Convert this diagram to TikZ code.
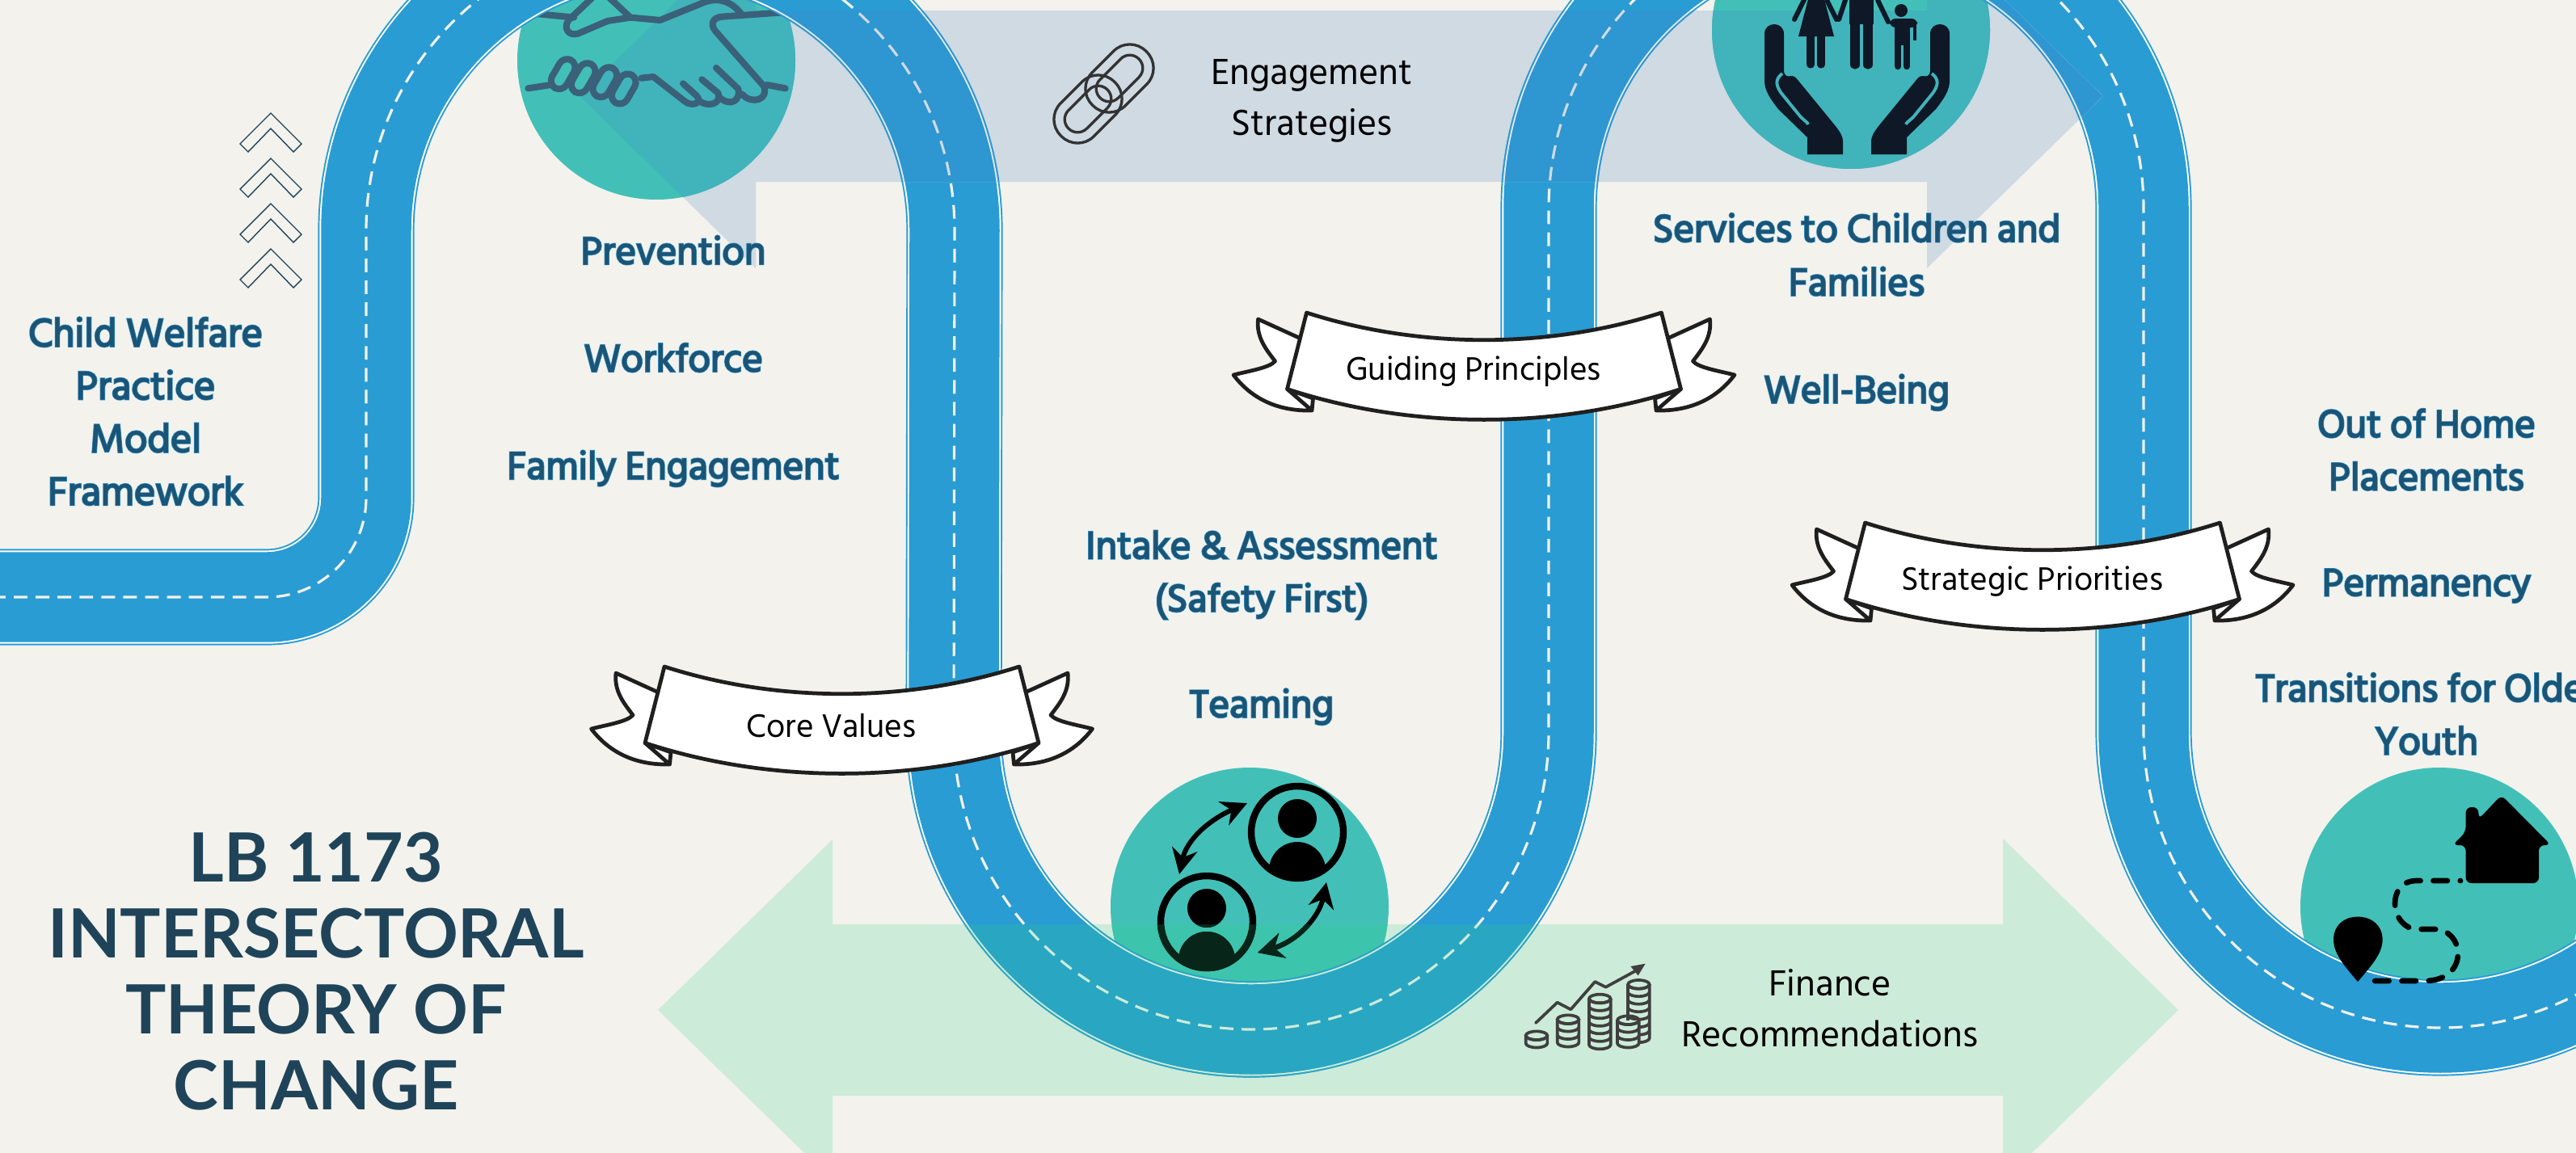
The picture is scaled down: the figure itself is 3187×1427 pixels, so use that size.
\documentclass[tikz,border=0pt]{standalone}
\usepackage{fontspec}
\usetikzlibrary{arrows.meta}

\setmainfont{Hind Siliguri}
\newfontfamily\infont[FakeBold=2.2]{Hind Siliguri}
\newfontfamily\outfont[FakeBold=5]{Hind Siliguri}
\newfontfamily\titlefont{Lato}[BoldFont={Lato Bold}]

\definecolor{paper}{HTML}{F3F2ED}
\definecolor{roadblue}{HTML}{299CD3}
\definecolor{roadgrey}{HTML}{2E96D0}
\definecolor{roadgreen}{HTML}{29A6C2}
\definecolor{teal}{HTML}{42C0B8}
\definecolor{tealgrey}{HTML}{41B3BB}
\definecolor{tealgreen}{HTML}{3DC4AC}
\definecolor{greyband}{HTML}{CFDAE3}
\definecolor{greenband}{HTML}{CDEBD9}
\definecolor{inkblue}{HTML}{1C5475}
\definecolor{lineblue}{HTML}{2E8FC5}
\definecolor{titleblue}{HTML}{1F4459}
\definecolor{shakeblue}{HTML}{3A6179}
\definecolor{navy}{HTML}{0E1826}
\definecolor{coingrey}{HTML}{3F3F3F}
\definecolor{nearblack}{HTML}{08251A}

% text that carries a thin lighter outline
\newcommand{\bl}[1]{\leavevmode\rlap{\color{lineblue}\outfont #1}{\color{inkblue}\infont #1}}

% the two translucent arrows
\newcommand{\greypath}{(717,119) -- (935,-94) -- (935,13) -- (2384,13) -- (2384,-94) -- (2602,119) -- (2384,332) -- (2384,225) -- (935,225) -- (935,332) -- cycle}
\newcommand{\greenpath}{(814,1250) -- (1030,1039) -- (1030,1144) -- (2478,1144) -- (2478,1038) -- (2695,1250) -- (2478,1462) -- (2478,1356) -- (1030,1356) -- (1030,1461) -- cycle}

% road, drawn in layers: edge, white line, body, centre dashes
\newcommand{\roadline}{(-10,739) -- (330,739) arc[start angle=90,end angle=0,radius=123] -- (453,285) arc[start angle=180,end angle=360,radius=364] -- (1180,906) arc[start angle=180,end angle=0,radius=368] -- (1916,258) arc[start angle=180,end angle=360,radius=368] -- (2652,905) arc[start angle=180,end angle=0,radius=367]}
\newcommand{\roadlayer}[4]{
    \draw[#1, line width=33.9pt] \roadline;
    \draw[#2, line width=32.8pt] \roadline;
    \draw[#3, line width=31.7pt] \roadline;
    \draw[#4, line width=.9pt, dash pattern=on 4.8pt off 2.9pt] \roadline;
}

% circles, plain and where an arrow lies under them
\newcommand{\discs}[1]{
    \fill[#1] (812,75) circle (172);
    \fill[#1] (2290,37) circle (172);
    \fill[#1] (1546,1122) circle (172);
    \fill[#1] (3018,1122) circle (172);
}

% two persons with arrows
\newcommand{\teamicon}[1]{
    \foreach \cx/\cy in {1605/1030,1493/1141} {
        \begin{scope}
            \clip (\cx,\cy) circle (58);
            \fill[#1] (\cx,\cy-17) circle (24);
            \fill[#1] (\cx,\cy+47) circle (35);
        \end{scope}
        \draw[#1, line width=2.4pt] (\cx,\cy) circle (57);
    }
    \draw[#1, line width=1.7pt, {Stealth[length=9pt,width=9pt]}-{Stealth[length=9pt,width=9pt]}] (1543,994) .. controls (1495,1015) and (1468,1040) .. (1459,1082);
    \draw[#1, line width=1.7pt, {Stealth[length=9pt,width=9pt]}-{Stealth[length=9pt,width=9pt]}] (1641,1092) .. controls (1632,1135) and (1605,1165) .. (1556,1179);
}

% one pile of coins
\newcommand{\coinstack}[3]{
    \fill[greenband] (#1-40,#2) rectangle (#1+40,#2+#3*28.5);
    \fill[greenband] (#1,#2+#3*28.5) ellipse [x radius=40,y radius=16];
    \draw[coinline] (#1-40,#2) -- (#1-40,#2+#3*28.5) arc[start angle=180,end angle=0,x radius=40,y radius=16] -- (#1+40,#2);
    \draw[coinline] (#1,#2) ellipse [x radius=40,y radius=16];
    \foreach \k in {1,...,#3} {
        \draw[coinline] (#1-40,#2+\k*28.5-28.5) arc[start angle=180,end angle=0,x radius=40,y radius=16];
    }
}

\tikzset{
    mainfs/.style={font=\fontsize{13.95}{18.6}\selectfont, align=center},
    widefs/.style={font=\fontsize{13.95}{18.9}\selectfont, align=center},
    plainfs/.style={font=\fontsize{13.1}{18}\selectfont, align=center, text=black},
    bandfs/.style={font=\fontsize{11.75}{14}\selectfont, text=black},
    ribbonline/.style={draw=black!88, fill=white, line width=1.35pt, line join=round},
    chevronline/.style={draw=titleblue, line width=.4pt, line join=miter},
    chainline/.style={draw=black!80, line width=.95pt},
    shake/.style={draw=shakeblue, line width=2.3pt, line cap=round, line join=round},
    coinline/.style={draw=coingrey, line width=1.05pt},
    pics/ribbon/.style={code={
        \foreach \s in {1,-1} {
            \begin{scope}[xscale=\s]
                \draw[ribbonline] (-229,31) -- (-279.5,8) .. controls (-282,30) and (-270,45) .. (-258.5,60) .. controls (-265,68) and (-290,72) .. (-310,77) .. controls (-285,110) and (-250,122) .. (-213,121) -- (-211.5,106) -- (-243.5,94.5) -- (-213,121);
            \end{scope}
        }
        \draw[ribbonline] (-219.5,0) .. controls (-80,45) and (80,45) .. (219.5,0) -- (243.5,94.5) .. controls (90,145) and (-90,145) .. (-243.5,94.5) -- cycle;
        \node[bandfs] (-label) at (-13,73) {#1};
    }}
}

\begin{document}
\begin{tikzpicture}[x=0.01cm, y=-0.01cm]
    \useasboundingbox (0,0) rectangle (3187,1427);
    \clip (0,0) rectangle (3187,1427);
    \fill[paper] (0,0) rectangle (3187,1427);

    % Arrows
    \fill[greyband] \greypath;
    \fill[greenband] \greenpath;

    % Circles
    \discs{teal}
    \begin{scope}
        \clip \greypath;
        \discs{tealgrey}
    \end{scope}
    \begin{scope}
        \clip \greenpath;
        \discs{tealgreen}
    \end{scope}

    % Handshake
    \begin{scope}[shift={(640,0)}, scale=1/3]
        \draw[shake] (40,328) -- (125,315);
        \foreach \cx/\cy in {170/275,245/290,325/305,395/330} {
            \draw[shake, rotate around={-30:(\cx,\cy)}, rounded corners=3.1pt] (\cx-31,\cy-60) rectangle (\cx+31,\cy+60);
        }
        \draw[shake] (460,290) -- (505,285) -- (620,375) .. controls (650,400) and (690,380) .. (665,355) -- (615,310);
        \draw[shake] (675,375) .. controls (710,400) and (760,385) .. (745,345) -- (685,295);
        \draw[shake] (755,365) .. controls (790,395) and (830,375) .. (820,330) -- (738,252);
        \draw[shake] (835,350) .. controls (870,390) and (935,370) .. (915,320) -- (735,115) .. controls (715,90) and (725,65) .. (760,62) -- (1000,45);
        \draw[shake] (925,315) -- (995,328);
        \draw[shake] (60,50) -- (210,65);
        \draw[shake] (280,-10) -- (190,75) .. controls (170,105) and (190,135) .. (225,125) -- (335,78) -- (420,65) -- (530,75) -- (690,10) .. controls (740,-10) and (790,0) .. (830,50);
        \draw[shake] (340,-10) -- (420,65);
    \end{scope}

    % Family in hands
    \foreach \s in {1,-1} {
        \begin{scope}[shift={(2297.5,0)}, xscale=\s, shift={(-2297.5,0)}]
            \fill[navy] (2183,42) .. controls (2183,26) and (2207,26) .. (2207,42) -- (2207,88) .. controls (2208,95) and (2212,95) .. (2216,94) .. controls (2220,94) and (2222,96) .. (2225,100) -- (2270,155) .. controls (2278,165) and (2280,170) .. (2280,175) -- (2280,191) -- (2236,191) -- (2236,170) -- (2200,135) .. controls (2190,122) and (2183,112) .. (2183,100) -- cycle;
            \draw[tealgrey, line width=1.1pt] (2205,91) .. controls (2196,98) and (2196,106) .. (2206,118) -- (2228,145) -- (2236,152) -- (2237,154);
        \end{scope}
    }
    \fill[navy] (2238,-5) -- (2225,45) -- (2269,45) -- (2256,-5) -- cycle;
    \draw[navy, line width=2.6pt, line cap=round] (2240,45) -- (2240,80) (2253,45) -- (2253,80);
    \draw[navy, line width=1.7pt, line cap=round] (2232,0) -- (2220,24) (2260,0) -- (2272,24) (2283,0) -- (2275,24) (2323,0) -- (2336,27);
    \fill[navy] (2288,-5) rectangle (2318,30);
    \draw[navy, line width=3.2pt, line cap=round] (2295,30) -- (2295,80) (2311,30) -- (2311,80);
    \fill[navy] (2352,13) circle (8);
    \fill[navy, rounded corners=2pt] (2338,23) rectangle (2372,34);
    \fill[navy] (2344,30) rectangle (2363,56);
    \draw[navy, line width=1.2pt] (2369,28) -- (2369,50);
    \draw[navy, line width=2.4pt, line cap=round] (2348,55) -- (2348,82) (2359,55) -- (2359,82);

    % Road
    \roadlayer{roadblue}{white}{roadblue}{paper}
    \begin{scope}
        \clip \greypath;
        \roadlayer{roadgrey}{greyband!60!white}{roadgrey}{greyband}
    \end{scope}
    \begin{scope}
        \clip \greenpath;
        \roadlayer{roadgreen}{greenband}{roadgreen}{greenband}
    \end{scope}

    % Chevrons
    \foreach \y in {0,56,112,168} {
        \draw[chevronline] (335,140+\y) -- (373,178+\y) -- (363,188+\y) -- (335,159+\y) -- (307,188+\y) -- (297,178+\y) -- cycle;
    }

    % Chain links
    \foreach \cx/\cy in {1385/97,1346/135} {
        \draw[chainline, rotate around={-45:(\cx,\cy)}, rounded corners=8pt] (\cx-29,\cy-47) rectangle (\cx+29,\cy+47);
        \draw[chainline, rotate around={-45:(\cx,\cy)}, rounded corners=4.5pt] (\cx-16,\cy-34) rectangle (\cx+16,\cy+34);
    }

    % Team
    \teamicon{black}
    \begin{scope}
        \clip \greenpath;
        \teamicon{nearblack}
    \end{scope}

    % Coins
    \begin{scope}[shift={(1860,1170)}, scale=1/3]
        \draw[coinline, line cap=round, line join=round] (120,288) -- (200,212) -- (250,238) -- (340,135) -- (380,155) -- (490,95);
        \fill[coingrey] (527,68) -- (472,78) -- (500,112) -- cycle;
        \coinstack{123}{335}{1}
        \coinstack{240}{275}{3}
        \coinstack{358}{198}{6}
        \coinstack{502}{145}{7}
        \coinstack{463}{278}{3}
    \end{scope}

    % House and pin
    \fill[black, rounded corners=2pt] (3094.7,984) -- (3156,1046) -- (3141,1046) -- (3141,1093) -- (3050.6,1093) -- (3050.6,1046) -- (3034,1046) -- (3050.6,1030) -- (3050.6,999) -- (3066.4,999) -- (3066.4,1014) -- cycle;
    \fill[black] (2917,1215) .. controls (2900,1195) and (2887,1180) .. (2887,1163) .. controls (2887,1145) and (2900,1134.6) .. (2917,1134.6) .. controls (2934,1134.6) and (2947.6,1145) .. (2947.6,1163) .. controls (2947.6,1180) and (2934,1195) .. (2917,1215) -- cycle;
    \draw[black, line width=1.9pt, line cap=round, dash pattern=on 5pt off 4.5pt] (2938,1214) -- (3000,1214) .. controls (3025,1214) and (3041,1200) .. (3041,1180) .. controls (3041,1165) and (3030,1150) .. (3012,1150) -- (2990,1150) .. controls (2975,1150) and (2963,1135) .. (2963,1118) .. controls (2963,1105) and (2970,1090) .. (2990,1090) -- (3044,1090);

    % Ribbons
    \pic (core) at (1041.5,825) {ribbon={Core Values}};
    \pic (guiding) at (1836,387) {ribbon={Guiding Principles}};
    \pic (strategic) at (2527,647) {ribbon={Strategic Priorities}};

    % Labels
    \node[mainfs, font=\fontsize{14.3}{18.6}\selectfont] (framework) at (180,509) {\bl{Child Welfare}\\\bl{Practice}\\\bl{Model}\\\bl{Framework}};
    \node[widefs] (prevention) at (833,447) {\bl{Prevention}\\~\\\bl{Workforce}\\~\\\bl{Family Engagement}};
    \node[mainfs] (intake) at (1561,777) {\bl{Intake \& Assessment}\\\bl{(Safety First)}\\~\\\bl{Teaming}};
    \node[widefs] (services) at (2297,386) {\bl{Services to Children and}\\\bl{Families}\\~\\\bl{Well-Being}};
    \node[mainfs] (placements) at (3002,720) {\bl{Out of Home}\\\bl{Placements}\\~\\\bl{Permanency}\\~\\\bl{Transitions for Older}\\\bl{Youth}};
    \node[plainfs] (engagement) at (1623,125) {Engagement\\Strategies};
    \node[plainfs] (finance) at (2264,1248) {Finance\\Recommendations};

    % Title
    \node[font=\fontsize{23.9}{26.7}\titlefont\bfseries, text=titleblue, align=center] (title) at (391,1202) {LB 1173\\INTERSECTORAL\\THEORY OF\\CHANGE};
\end{tikzpicture}
\end{document}
